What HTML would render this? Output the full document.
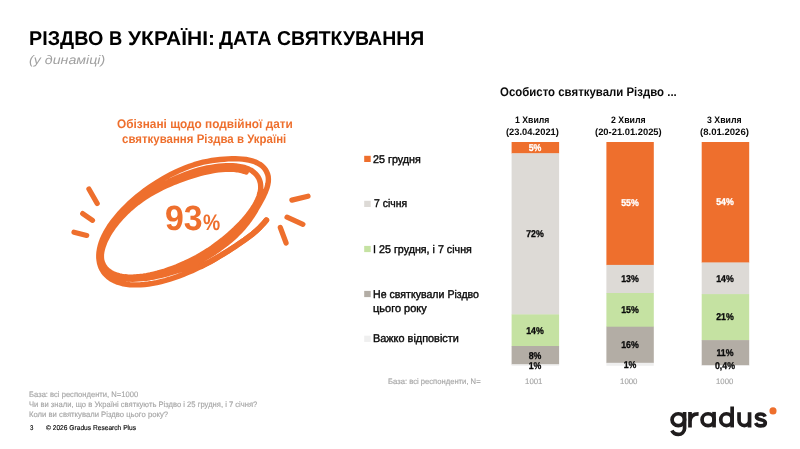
<!DOCTYPE html>
<html lang="uk"><head><meta charset="utf-8"><title>Різдво в Україні</title>
<style>
html,body{margin:0;padding:0;background:#fff;}
body{width:800px;height:449px;position:relative;overflow:hidden;font-family:"Liberation Sans",sans-serif;}
#pg{position:absolute;left:0;top:0;width:800px;height:449px;will-change:transform;}
.t{position:absolute;white-space:nowrap;line-height:1;transform-origin:0 0;}
.c{position:absolute;white-space:nowrap;line-height:1;font-weight:700;transform:translateX(-50%) scaleX(0.89) skewX(0.1deg);-webkit-text-stroke:0.3px currentColor;}
.r{position:absolute;}
svg{position:absolute;left:0;top:0;}
</style></head><body><div id="pg">
<svg width="800" height="449" viewBox="0 0 800 449">
<rect x="511.60" y="142.00" width="47.50" height="11.60" fill="#EE6F2D"/>
<rect x="511.60" y="153.30" width="47.50" height="161.40" fill="#DDDAD6"/>
<rect x="511.60" y="314.40" width="47.50" height="31.90" fill="#C5E2A2"/>
<rect x="511.60" y="346.00" width="47.50" height="18.60" fill="#B3ADA5"/>
<rect x="511.60" y="364.30" width="47.50" height="1.50" fill="#EFEFEF"/>
<rect x="606.40" y="142.00" width="47.40" height="123.20" fill="#EE6F2D"/>
<rect x="606.40" y="264.90" width="47.40" height="28.40" fill="#DDDAD6"/>
<rect x="606.40" y="293.00" width="47.40" height="34.00" fill="#C5E2A2"/>
<rect x="606.40" y="326.70" width="47.40" height="36.40" fill="#B3ADA5"/>
<rect x="606.40" y="362.80" width="47.40" height="3.00" fill="#EFEFEF"/>
<rect x="701.70" y="142.00" width="47.50" height="120.80" fill="#EE6F2D"/>
<rect x="701.70" y="262.50" width="47.50" height="31.90" fill="#DDDAD6"/>
<rect x="701.70" y="294.10" width="47.50" height="46.30" fill="#C5E2A2"/>
<rect x="701.70" y="340.10" width="47.50" height="25.40" fill="#B3ADA5"/>
<rect x="701.70" y="365.20" width="47.50" height="0.80" fill="#EFEFEF"/>
<rect x="364.2" y="155.80" width="6.5" height="6.2" fill="#EE6F2D"/>
<rect x="364.2" y="200.80" width="6.5" height="6.2" fill="#DDDAD6"/>
<rect x="364.2" y="245.90" width="6.5" height="6.2" fill="#C5E2A2"/>
<rect x="364.2" y="290.90" width="6.5" height="6.2" fill="#B3ADA5"/>
<rect x="364.2" y="335.70" width="6.5" height="6.2" fill="#EFEFEF"/>
<g fill="none" stroke="#EE6F2D" stroke-linecap="round" stroke-linejoin="round">
<path stroke-width="5.4" d="M246.2 172.0 L244.1 171.3 L241.9 170.7 L239.5 170.1 L236.9 169.7 L234.2 169.4 L231.3 169.2 L228.3 169.2 L225.1 169.2 L221.8 169.5 L218.4 169.9 L214.8 170.4 L211.1 171.0 L207.4 171.8 L203.5 172.7 L199.6 173.7 L195.6 174.9 L191.5 176.1 L187.4 177.4 L183.2 178.9 L179.0 180.5 L174.7 182.1 L170.4 183.9 L166.1 185.8 L161.8 187.8 L157.6 190.0 L153.3 192.3 L149.2 194.7 L145.2 197.3 L141.2 200.0 L137.5 202.7 L133.8 205.6 L130.3 208.6 L127.0 211.7 L123.9 214.8 L120.9 217.9 L118.1 221.1 L115.6 224.3 L113.2 227.4 L111.0 230.6 L109.0 233.8 L107.3 236.9 L105.7 240.0 L104.4 243.0 L103.3 246.0 L102.4 248.9 L101.8 251.7 L101.4 254.5 L101.4 257.1 L101.6 259.6 L102.2 261.9 L103.0 264.1 L104.1 266.1 L105.4 267.9 L106.9 269.5 L108.6 271.0 L110.5 272.3 L112.5 273.4 L114.7 274.4 L117.0 275.2 L119.4 275.9 L122.0 276.4 L124.7 276.8 L127.5 277.0 L130.4 277.1 L133.5 277.0 L136.6 276.8 L139.9 276.5 L143.2 276.1 L146.6 275.6 L150.2 274.9 L153.8 274.1 L157.5 273.2 L161.2 272.1 L165.0 271.0 L168.9 269.6 L172.8 268.2 L176.8 266.7 L180.7 265.0 L184.7 263.3 L188.7 261.4 L192.7 259.4 L196.7 257.3 L200.6 255.1 L204.4 252.8 L208.3 250.4 L212.0 247.9 L215.6 245.3 L219.1 242.7 L222.6 240.0 L225.9 237.2 L229.1 234.5 L232.2 231.7 L235.2 228.9 L238.0 226.1 L240.8 223.3 L243.4 220.5 L245.8 217.7 L248.1 214.9 L250.2 212.1 L252.2 209.3 L254.0 206.6 L255.6 203.9 L256.9 201.3 L258.1 198.7 L259.1 196.1 L259.8 193.6 L260.4 191.2 L260.7 188.9 L260.7 186.7 L260.6 184.6 L260.3 182.6 L259.7 180.6 L259.0 178.8 L258.1 177.1 L257.0 175.5 L255.7 174.0 L254.2 172.6 L252.6 171.3 L250.8 170.1 L248.7 169.1 L246.5 168.2 L244.1 167.4 L241.5 166.8 L238.7 166.3 L235.8 165.9 L232.7 165.7 L229.5 165.6 L226.1 165.7 L222.6 165.9 L219.0 166.2 L215.3 166.7 L211.4 167.3 L207.4 168.0 L203.4 168.9 L199.3 169.9 L195.1 171.1 L190.8 172.5 L186.5 174.0 L182.2 175.7 L177.9 177.5 L173.5 179.4 L169.2 181.5 L165.0 183.8 L160.7 186.1 L156.5 188.5 L152.4 191.0 L148.3 193.7 L144.3 196.4 L140.4 199.2 L136.7 202.1 L133.0 205.0 L129.5 208.1 L126.1 211.1 L122.9 214.3 L119.8 217.4 L117.0 220.6 L114.3 223.8 L111.8 227.0 L109.5 230.3 L107.4 233.5 L105.6 236.7 L104.0 239.9 L102.7 243.0 L101.7 246.0 L101.0 249.0 L100.5 251.9 L100.4 254.7 L100.5 257.3 L100.8 259.9 L101.4 262.2 L102.2 264.5 L103.2 266.5 L104.4 268.5 L105.8 270.3 L107.4 271.9 L109.2 273.3 L111.1 274.6 L113.3 275.7 L115.6 276.7 L118.1 277.5 L120.7 278.1 L123.5 278.6 L126.3 278.9 L129.3 279.1 L132.5 279.2 L135.7 279.1 L139.0 278.9 L142.5 278.6 L146.0 278.2 L149.7 277.7 L153.4 277.0 L157.3 276.2 L161.2 275.3 L165.2 274.3 L169.2 273.2 L173.4 272.0 L177.6 270.7 L181.8 269.2 L186.0 267.5 L190.3 265.7 L194.5 263.8 L198.8 261.6 L202.9 259.4 L207.1 257.0 L211.1 254.5 L215.1 251.9 L219.0 249.2 L222.7 246.4 L226.4 243.6 L230.0 240.7 L233.4 237.7 L236.6 234.7 L239.7 231.6 L242.6 228.5 L245.2 225.3 L247.7 222.2 L250.0 219.1 L252.1 216.0 L254.0 213.0 L255.8 210.0 L257.5 207.0 L259.2 204.2 L260.8 201.3 L262.3 198.5 L263.7 195.7 L265.0 192.9 L266.1 190.1 L267.1 187.3 L267.8 184.5 L268.3 181.8 L268.4 179.1 L268.2 176.5 L267.6 174.1 L266.6 171.8 L265.4 169.6 L263.8 167.6 L262.0 165.9 L259.8 164.3 L257.4 163.0 L254.8 161.8 L252.0 160.9 L249.0 160.1 L245.9 159.5 L242.5 159.1 L239.1 158.9 L235.5 158.8 L231.9 158.8 L228.1 158.9 L224.2 159.2 L220.2 159.5 L216.1 160.0 L211.9 160.5 L207.6 161.3 L203.2 162.2 L198.7 163.4 L194.2 164.7 L189.6 166.2 L185.0 168.0 L180.4 169.9 L175.9 172.0 L171.3 174.2 L166.8 176.6 L162.4 179.1 L158.0 181.7 L153.7 184.5 L149.5 187.3 L145.3 190.2 L141.3 193.3 L137.4 196.4 L133.7 199.6 L130.0 202.8 L126.6 206.1 L123.3 209.4 L120.1 212.8 L117.2 216.2 L114.4 219.6 L111.8 223.0 L109.4 226.4 L107.3 229.8 L105.4 233.1 L103.7 236.5 L102.3 239.7 L101.1 243.0 L100.2 246.1 L99.5 249.2 L99.0 252.1 L98.8 255.0 L98.8 257.7 L99.1 260.4 L99.5 262.9 L100.2 265.3 L101.0 267.6 L102.1 269.7 L103.4 271.8 L104.8 273.7 L106.5 275.4 L108.3 277.1 L110.4 278.6 L112.6 279.9 L115.0 281.1 L117.6 282.2 L120.4 283.0 L123.4 283.8 L126.6 284.3 L129.9 284.7 L133.4 284.9 L137.0 284.9 L140.7 284.8 L144.6 284.5 L148.6 284.0 L152.6 283.4 L156.8 282.6 L161.1 281.6 L165.4 280.5 L169.7 279.2 L174.2 277.7 L178.6 276.2 L183.1 274.5 L187.6 272.6 L192.1 270.7 L196.6 268.6 L201.1 266.4 L205.6 264.1 L210.0 261.8 L214.4 259.3 L218.8 256.7 L223.2 254.0 L227.5 251.4 L231.8 248.6 L236.1 245.8 L240.3 242.9 L244.5 240.0 L248.6 237.0 L252.7 233.9 L256.5 230.6 L260.1 227.2 L263.4 223.7 L266.4 220.1"/>
<path stroke-width="5.6" d="M201.1 266.4 L205.6 264.1 L210.0 261.8 L214.4 259.3 L218.8 256.7 L223.2 254.0 L227.5 251.4 L231.8 248.6 L236.1 245.8 L240.3 242.9 L244.5 240.0 L248.6 237.0 L252.7 233.9 L256.5 230.6 L260.1 227.2 L263.4 223.7 L266.4 220.1"/>
<path stroke-width="5.2" d="M88.9 189L97.2 203.5M82.7 213.6L92.5 220.3M74 232.2L86.7 235.4M291.9 200.1L308 196.2M287 217.2L302.9 224.3M280.3 227.5L286.1 243"/>
</g>
<g fill="none" stroke="#1F1C1D" stroke-width="3.7" stroke-linecap="butt" stroke-linejoin="round">
<ellipse cx="678.3" cy="419.65" rx="6.25" ry="5.9"/>
<path d="M684.55 411.9V428.6a6.2 5.85 0 0 1 -6.2 5.85c-3.1 0 -5.3 -1.4 -6.4 -3.9"/>
<path d="M690 411.9V427.4M690 421.5C690 416.6 692.8 413.85 698.6 413.85"/>
<ellipse cx="708.05" cy="419.65" rx="6" ry="5.9"/>
<path d="M714.05 411.9V427.4"/>
<ellipse cx="726.45" cy="419.65" rx="5.7" ry="5.9"/>
<path d="M732.15 406.5V427.4"/>
<path d="M739.05 412.2V420.3a5.25 5.25 0 0 0 10.5 0V412.2M749.55 412.2V427.4"/>
<path d="M765.1 416.6C764.4 414.9 762.7 414.0 760.6 414.0C758.1 414.0 756.5 415.2 756.5 416.8C756.5 420.9 765.3 418.7 765.3 422.8C765.3 424.7 763.6 425.9 760.7 425.9C758.3 425.9 756.5 424.9 755.6 423.0"/>
</g>
<circle cx="773" cy="410.9" r="3.55" fill="#EE6F2D"/>
</svg>
<span class="t" id="t1" style="left:29.43px;top:28.25px;font-size:20.00px;font-weight:700;font-style:normal;color:#000;transform:scaleX(0.9891) skewX(0.1deg)">РІЗДВО</span>
<span class="t" id="t2" style="left:109.27px;top:28.25px;font-size:20.00px;font-weight:700;font-style:normal;color:#000;transform:scaleX(0.9190) skewX(0.1deg)">В</span>
<span class="t" id="t3" style="left:127.99px;top:28.25px;font-size:20.00px;font-weight:700;font-style:normal;color:#000;transform:scaleX(1.0499) skewX(0.1deg)">УКРАЇНІ:</span>
<span class="t" id="t4" style="left:218.58px;top:28.25px;font-size:20.00px;font-weight:700;font-style:normal;color:#000;transform:scaleX(0.9868) skewX(0.1deg)">ДАТА</span>
<span class="t" id="t5" style="left:276.70px;top:28.25px;font-size:20.00px;font-weight:700;font-style:normal;color:#000;transform:scaleX(0.9735) skewX(0.1deg)">СВЯТКУВАННЯ</span>
<span class="t" id="sub" style="left:29.33px;top:54.00px;font-size:12.40px;font-weight:400;font-style:italic;color:#A0A0A0;transform:scaleX(1.1475) skewX(0.1deg)">(у динаміці)</span>
<span class="t" id="h1" style="left:117.01px;top:117.50px;font-size:12.40px;font-weight:700;font-style:normal;color:#EE6F2D;transform:scaleX(0.9550) skewX(0.1deg)">Обізнані щодо подвійної дати</span>
<span class="t" id="h2" style="left:122.05px;top:133.25px;font-size:12.40px;font-weight:700;font-style:normal;color:#EE6F2D;transform:scaleX(0.9247) skewX(0.1deg)">святкування Різдва в Україні</span>
<span class="t" id="n93" style="left:165.13px;top:200.30px;font-size:35.20px;font-weight:700;font-style:normal;color:#EE6F2D;transform:scaleX(0.9616) skewX(0.1deg)">93</span>
<span class="t" id="npc" style="left:203.27px;top:212.30px;font-size:22.40px;font-weight:700;font-style:normal;color:#EE6F2D;transform:scaleX(0.8638) skewX(0.1deg)">%</span>
<span class="t" id="ch" style="left:499.53px;top:85.50px;font-size:12.40px;font-weight:700;font-style:normal;color:#0a0a0a;transform:scaleX(0.9218) skewX(0.1deg)">Особисто святкували Різдво ...</span>
<span class="t" id="w1a" style="left:515.45px;top:116.25px;font-size:9.30px;font-weight:700;font-style:normal;color:#0a0a0a;transform:scaleX(0.9366) skewX(0.1deg)">1 Хвиля</span>
<span class="t" id="w1b" style="left:505.79px;top:128.00px;font-size:9.30px;font-weight:700;font-style:normal;color:#0a0a0a;transform:scaleX(1.0034) skewX(0.1deg)">(23.04.2021)</span>
<span class="t" id="w2a" style="left:611.45px;top:116.25px;font-size:9.30px;font-weight:700;font-style:normal;color:#0a0a0a;transform:scaleX(0.9437) skewX(0.1deg)">2 Хвиля</span>
<span class="t" id="w2b" style="left:595.03px;top:128.00px;font-size:9.30px;font-weight:700;font-style:normal;color:#0a0a0a;transform:scaleX(1.0075) skewX(0.1deg)">(20-21.01.2025)</span>
<span class="t" id="w3a" style="left:707.30px;top:116.25px;font-size:9.30px;font-weight:700;font-style:normal;color:#0a0a0a;transform:scaleX(0.9408) skewX(0.1deg)">3 Хвиля</span>
<span class="t" id="w3b" style="left:700.27px;top:128.00px;font-size:9.30px;font-weight:700;font-style:normal;color:#0a0a0a;transform:scaleX(1.0289) skewX(0.1deg)">(8.01.2026)</span>
<span class="t" id="l1" style="left:373.46px;top:153.50px;font-size:11.20px;font-weight:400;font-style:normal;color:#0a0a0a;transform:scaleX(0.9608) skewX(0.1deg);-webkit-text-stroke:0.40px #0a0a0a">25 грудня</span>
<span class="t" id="l2" style="left:373.57px;top:198.20px;font-size:11.20px;font-weight:400;font-style:normal;color:#0a0a0a;transform:scaleX(0.9311) skewX(0.1deg);-webkit-text-stroke:0.40px #0a0a0a">7 січня</span>
<span class="t" id="l3" style="left:372.91px;top:243.60px;font-size:11.20px;font-weight:400;font-style:normal;color:#0a0a0a;transform:scaleX(0.9583) skewX(0.1deg);-webkit-text-stroke:0.40px #0a0a0a">І 25 грудня, і 7 січня</span>
<span class="t" id="l4a" style="left:373.03px;top:288.60px;font-size:11.20px;font-weight:400;font-style:normal;color:#0a0a0a;transform:scaleX(0.9468) skewX(0.1deg);-webkit-text-stroke:0.40px #0a0a0a">Не святкували Різдво</span>
<span class="t" id="l4b" style="left:373.14px;top:303.00px;font-size:11.20px;font-weight:400;font-style:normal;color:#0a0a0a;transform:scaleX(0.9831) skewX(0.1deg);-webkit-text-stroke:0.40px #0a0a0a">цього року</span>
<span class="t" id="l5" style="left:373.01px;top:333.30px;font-size:11.20px;font-weight:400;font-style:normal;color:#0a0a0a;transform:scaleX(0.9736) skewX(0.1deg);-webkit-text-stroke:0.40px #0a0a0a">Важко відповісти</span>
<span class="t" id="b0" style="left:387.87px;top:377.90px;font-size:7.90px;font-weight:400;font-style:normal;color:#A6A6A6;transform:scaleX(0.9678) skewX(0.1deg);-webkit-text-stroke:0.15px #A6A6A6">База: всі респонденти, N=</span>
<span class="t" id="b1" style="left:524.50px;top:377.90px;font-size:7.90px;font-weight:400;font-style:normal;color:#A6A6A6;transform:scaleX(0.9946) skewX(0.1deg);-webkit-text-stroke:0.15px #A6A6A6">1001</span>
<span class="t" id="b2" style="left:620.40px;top:377.90px;font-size:7.90px;font-weight:400;font-style:normal;color:#A6A6A6;transform:scaleX(0.9960) skewX(0.1deg);-webkit-text-stroke:0.15px #A6A6A6">1000</span>
<span class="t" id="b3" style="left:716.41px;top:377.90px;font-size:7.90px;font-weight:400;font-style:normal;color:#A6A6A6;transform:scaleX(0.9840) skewX(0.1deg);-webkit-text-stroke:0.15px #A6A6A6">1000</span>
<span class="t" id="f1" style="left:29.13px;top:391.00px;font-size:7.90px;font-weight:400;font-style:normal;color:#A6A6A6;transform:scaleX(0.9640) skewX(0.1deg);-webkit-text-stroke:0.15px #A6A6A6">База: всі респонденти, N=1000</span>
<span class="t" id="f2" style="left:29.15px;top:401.10px;font-size:7.90px;font-weight:400;font-style:normal;color:#A6A6A6;transform:scaleX(0.9644) skewX(0.1deg);-webkit-text-stroke:0.15px #A6A6A6">Чи ви знали, що в Україні святкують Різдво і 25 грудня, і 7 січня?</span>
<span class="t" id="f3" style="left:29.12px;top:411.20px;font-size:7.90px;font-weight:400;font-style:normal;color:#A6A6A6;transform:scaleX(0.9749) skewX(0.1deg);-webkit-text-stroke:0.15px #A6A6A6">Коли ви святкували Різдво цього року?</span>
<span class="t" id="f4" style="left:30.47px;top:424.20px;font-size:7.00px;font-weight:400;font-style:normal;color:#0a0a0a;transform:scaleX(0.8672) skewX(0.1deg);-webkit-text-stroke:0.15px #0a0a0a">3</span>
<span class="t" id="f5" style="left:45.90px;top:424.20px;font-size:7.00px;font-weight:400;font-style:normal;color:#0a0a0a;transform:scaleX(0.9472) skewX(0.1deg);-webkit-text-stroke:0.15px #0a0a0a">© 2026 Gradus Research Plus</span>
<span class="c" style="left:535.20px;top:142.91px;font-size:9.90px;color:#fff">5%</span>
<span class="c" style="left:535.20px;top:229.31px;font-size:9.90px;color:#0a0a0a">72%</span>
<span class="c" style="left:535.20px;top:325.51px;font-size:9.90px;color:#0a0a0a">14%</span>
<span class="c" style="left:535.20px;top:350.51px;font-size:9.90px;color:#0a0a0a">8%</span>
<span class="c" style="left:535.20px;top:361.11px;font-size:9.90px;color:#0a0a0a">1%</span>
<span class="c" style="left:630.20px;top:198.41px;font-size:9.90px;color:#fff">55%</span>
<span class="c" style="left:630.20px;top:274.31px;font-size:9.90px;color:#0a0a0a">13%</span>
<span class="c" style="left:630.20px;top:305.21px;font-size:9.90px;color:#0a0a0a">15%</span>
<span class="c" style="left:630.20px;top:340.01px;font-size:9.90px;color:#0a0a0a">16%</span>
<span class="c" style="left:630.20px;top:360.01px;font-size:9.90px;color:#0a0a0a">1%</span>
<span class="c" style="left:725.30px;top:197.31px;font-size:9.90px;color:#fff">54%</span>
<span class="c" style="left:725.30px;top:273.51px;font-size:9.90px;color:#0a0a0a">14%</span>
<span class="c" style="left:725.30px;top:311.91px;font-size:9.90px;color:#0a0a0a">21%</span>
<span class="c" style="left:725.30px;top:347.81px;font-size:9.90px;color:#0a0a0a">11%</span>
<span class="c" style="left:725.30px;top:361.11px;font-size:9.90px;color:#0a0a0a">0,4%</span>
</div></body></html>
